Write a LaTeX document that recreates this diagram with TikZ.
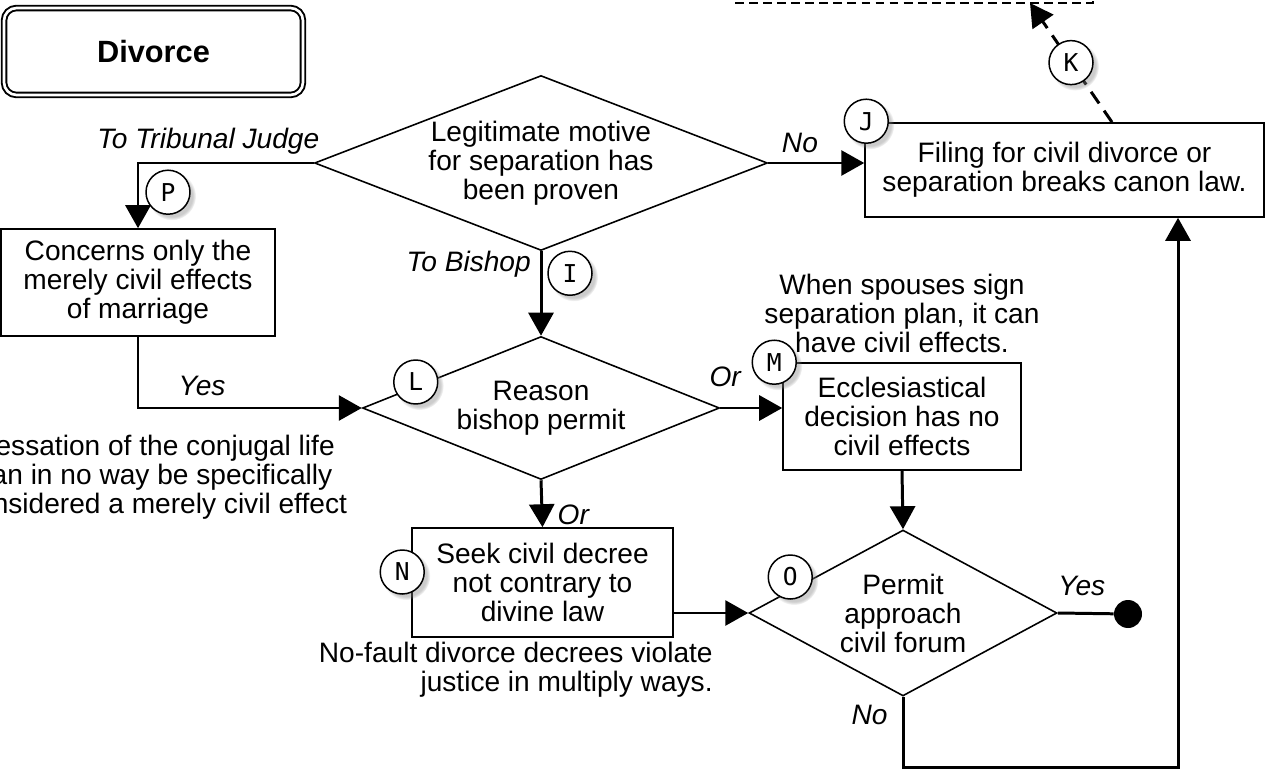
\documentclass[tikz,border=0pt]{standalone}
\usepackage{fontspec}
\setmainfont{Liberation Sans}
\newfontfamily\tagfont{DejaVu Sans Mono}
\usetikzlibrary{arrows.meta,shapes.geometric,shadows,calc}

\tikzset{
  txt/.style={font=\fontsize{16}{16.5}\selectfont, align=center, inner sep=0pt},
  stepbox/.style={txt, draw, line width=0.9pt, fill=white},
  choice/.style={txt, diamond, draw, line width=0.9pt, fill=white, inner sep=-3pt},
  headbox/.style={draw, double, line width=1.1pt, double distance=1.5pt, rounded corners=0.25cm,
    minimum width=5.98cm, minimum height=1.74cm, font=\fontsize{17.5}{20}\selectfont\bfseries},
  lbl/.style={font=\fontsize{16}{16.5}\selectfont\itshape, inner sep=0pt},
  tag/.style={solid, circle, draw, line width=0.85pt, fill=white, minimum size=0.88cm, inner sep=0pt,
    font=\tagfont\fontsize{14}{14}\selectfont,
    circular drop shadow={shadow xshift=0.07cm, shadow yshift=-0.07cm, opacity=0.4}},
  flow/.style={line width=1.7pt, -{Triangle[length=0.46cm, width=0.5cm]}},
}

\begin{document}
\begin{tikzpicture}[x=0.02cm, y=-0.02cm]
  \useasboundingbox (0,0) rectangle (1277,770);

  \node[draw, line width=0.8pt, dash pattern=on 5pt off 3pt, minimum width=7.16cm, minimum height=1.4cm] (upper) at (914,-32) {};
  \coordinate (kend) at (1030,3);

  \node[headbox] (title) at (153.5,51.5) {Divorce};

  \node[choice, minimum width=9.06cm, minimum height=3.5cm, aspect=2.59] (legit) at (541,163)
    {Legitimate motive\\for separation has\\been proven};
  \node[stepbox, minimum width=7.98cm, minimum height=1.88cm] (filing) at (1064.5,170)
    {Filing for civil divorce or\\separation breaks canon law.};
  \node[stepbox, minimum width=5.48cm, minimum height=2.14cm] (concerns) at (138,282.5)
    {Concerns only the\\merely civil effects\\of marriage};
  \node[choice, minimum width=7.14cm, minimum height=2.86cm, aspect=2.5] (reason) at (541,408)
    {Reason\\bishop permit};
  \node[stepbox, minimum width=4.76cm, minimum height=2.14cm] (eccl) at (902,416.5)
    {Ecclesiastical\\decision has no\\civil effects};
  \node[stepbox, minimum width=5.22cm, minimum height=2.18cm] (seek) at (542.5,582.5)
    {Seek civil decree\\not contrary to\\divine law};
  \node[choice, minimum width=6.16cm, minimum height=3.32cm, aspect=1.86] (permit) at (903,613)
    {Permit\\approach\\civil forum};
  \node[circle, fill, minimum size=0.56cm, inner sep=0pt] (stop) at (1128,614) {};
  \coordinate (loop) at (1178,767);

  \node[txt] (cessation) at (155,477)
    {Cessation of the conjugal life\\can in no way be specifically\\considered a merely civil effect};
  \node[txt] (spouses) at (902,313)
    {When spouses sign\\separation plan, it can\\have civil effects.};
  \node[txt, align=right, anchor=east] (nofault) at (713,670)
    {No-fault divorce decrees violate\\justice in multiply ways.};

  \draw[flow] (legit.west) -| node[lbl, above=4pt, pos=.3] {To Tribunal Judge} (concerns.north);
  \draw[flow] (legit.south) -- node[lbl, left=5pt, pos=.15] {To Bishop} (reason.north);
  \draw[flow] (legit.east) -- node[lbl, above=5pt, pos=.33] {No} (filing.west |- legit.east);
  \draw[flow] (concerns.south) |- node[lbl, above=6pt, pos=.643] {Yes} (reason.west);
  \draw[flow] (reason.east) -- node[lbl, above=11pt, pos=.08] {Or} (eccl.west |- reason.east);
  \draw[flow] (reason.south) -- node[lbl, right=8pt, pos=.73] {Or} (seek.north);
  \draw[flow] (eccl.south) -- (permit.north);
  \draw[flow] (seek.east |- permit.west) -- (permit.west);
  \draw[line width=1.7pt] (permit.east) -- node[lbl, above=9pt, pos=.43] {Yes} (stop);
  \draw[flow] (permit.south) |- node[lbl, left=8pt, pos=.13] {No} (loop) -- (loop |- filing.south);
  \draw[line width=1.7pt, dash pattern=on 8pt off 5pt, -{Triangle[length=0.46cm, width=0.5cm]}]
    ($(filing.north)+(47.5,0)$) -- node[tag, pos=.5] (tagK) {K} (kend);

  \node[tag] (tagP) at ($(concerns.north)+(30,-36)$) {P};
  \node[tag] (tagI) at ($(legit.south)+(29,22)$) {I};
  \node[tag] (tagJ) at ($(filing.north west)+(2,-1)$) {J};
  \node[tag] (tagL) at ($(reason.west)+(54,-26)$) {L};
  \node[tag] (tagM) at ($(eccl.north west)+(-8,0)$) {M};
  \node[tag] (tagN) at ($(seek.west)+(-9,-10.5)$) {N};
  \node[tag] (tagO) at ($(permit.west)+(42,-36)$) {O};
\end{tikzpicture}
\end{document}
